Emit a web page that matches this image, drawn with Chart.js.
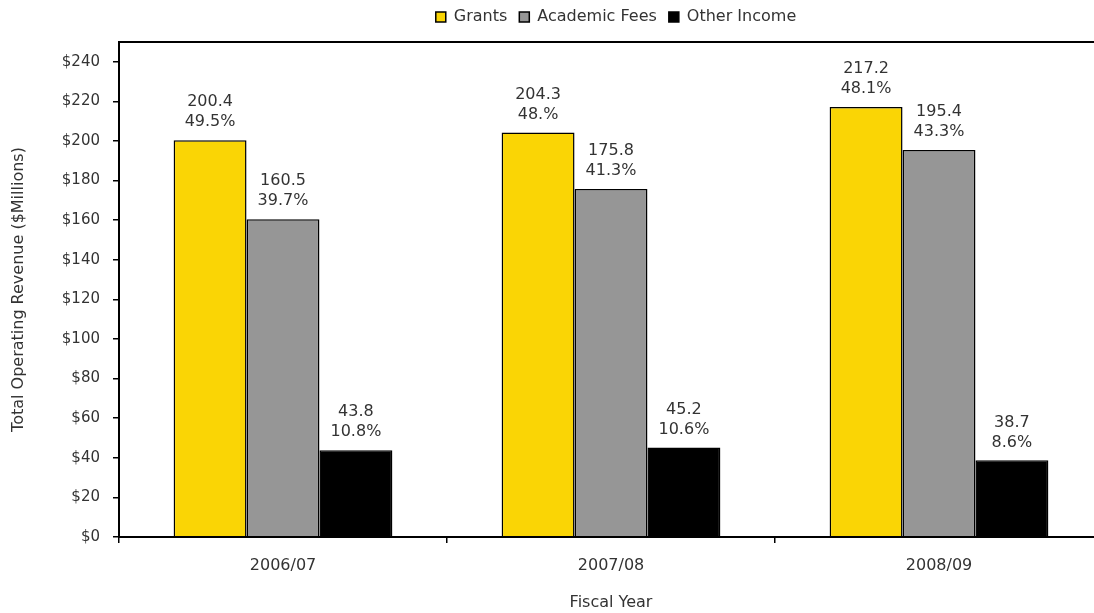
<!DOCTYPE html>
<html>
<head>
<meta charset="utf-8">
<script src="https://cdn.jsdelivr.net/npm/chart.js@4.4.1/dist/chart.umd.min.js"></script>
<style>
  html, body { margin: 0; padding: 0; background: #fff; overflow: hidden; }
  #wrap { width: 1106px; height: 613px; }
</style>
</head>
<body>
<div id="wrap"><canvas id="revChart"></canvas></div>
<script>
const years = ['2006/07', '2007/08', '2008/09'];
const grants = [200.4, 204.3, 217.2];
const academicFees = [160.5, 175.8, 195.4];
const otherIncome = [43.8, 45.2, 38.7];
const grantsPct = ['49.5%', '48.%', '48.1%'];
const feesPct = ['39.7%', '41.3%', '43.3%'];
const otherPct = ['10.8%', '10.6%', '8.6%'];

const textColor = '#333333';
const fontFamily = '"DejaVu Sans", Verdana, sans-serif';

// two-line labels above each bar: value, then share
const barLabels = {
  id: 'barLabels',
  afterDatasetsDraw(chart) {
    const ctx = chart.ctx;
    ctx.save();
    ctx.font = '16px ' + fontFamily;
    ctx.fillStyle = textColor;
    ctx.textAlign = 'center';
    ctx.textBaseline = 'middle';
    chart.data.datasets.forEach((ds, i) => {
      chart.getDatasetMeta(i).data.forEach((bar, j) => {
        ctx.fillText(String(ds.data[j]), bar.x, bar.y - 38);
        ctx.fillText(ds.pct[j], bar.x, bar.y - 18);
      });
    });
    ctx.restore();
  }
};

// frame round the plot area; legend fixed height and centred over the plot
const frame = {
  id: 'frame',
  beforeLayout(chart) {
    const lg = chart.legend;
    if (lg && !lg._fixed) {
      const fit = lg.fit;
      lg.fit = function () { fit.call(this); this.height = 42; };
      lg._fixed = true;
    }
  },
  afterLayout(chart) {
    const lg = chart.legend;
    if (lg) {
      lg.left = chart.chartArea.left + 5;
      lg.right = chart.chartArea.right + 5;
      lg.top = -3;
    }
  },
  afterDraw(chart) {
    const a = chart.chartArea;
    const ctx = chart.ctx;
    ctx.save();
    ctx.strokeStyle = '#000';
    ctx.lineWidth = 2;
    ctx.strokeRect(a.left, a.top, a.right - a.left, a.bottom - a.top);
    ctx.restore();
  }
};

Chart.defaults.font.family = fontFamily;
Chart.defaults.color = textColor;

new Chart(document.getElementById('revChart'), {
  type: 'bar',
  data: {
    labels: years,
    datasets: [
      { label: 'Grants', data: grants, pct: grantsPct, backgroundColor: '#FAD505', borderColor: '#000', borderWidth: 1.5 },
      { label: 'Academic Fees', data: academicFees, pct: feesPct, backgroundColor: '#969696', borderColor: '#000', borderWidth: 1.5 },
      { label: 'Other Income', data: otherIncome, pct: otherPct, backgroundColor: '#000000', borderColor: '#000', borderWidth: 1.5 }
    ]
  },
  options: {
    responsive: true,
    maintainAspectRatio: false,
    animation: false,
    layout: { padding: { top: 0, right: 3, bottom: 0, left: 0 } },
    datasets: { bar: { categoryPercentage: 0.667, barPercentage: 1 } },
    plugins: {
      legend: {
        position: 'top',
        labels: { boxWidth: 10, boxHeight: 10, padding: 12, color: textColor, font: { size: 16 } }
      },
      tooltip: { enabled: false }
    },
    scales: {
      x: {
        grid: { drawOnChartArea: false, offset: true, tickLength: 6, color: '#000', lineWidth: 1.5 },
        border: { color: '#000', width: 2 },
        ticks: { padding: 13, font: { size: 16 }, color: textColor },
        title: { display: true, text: 'Fiscal Year', font: { size: 16 }, color: textColor, padding: { top: 2, bottom: 1 } },
        afterFit(scale) { scale.height = 76; }
      },
      y: {
        min: 0,
        max: 250,
        grid: { drawOnChartArea: false, tickLength: 6, color: '#000', lineWidth: 1.5 },
        border: { color: '#000', width: 2 },
        ticks: { stepSize: 20, padding: 13, font: { size: 15 }, color: textColor, callback: v => '$' + v },
        afterBuildTicks(scale) { scale.ticks = scale.ticks.filter(t => t.value <= 240); },
        title: { display: true, text: 'Total Operating Revenue ($Millions)', font: { size: 16 }, color: textColor, padding: { top: 9, bottom: 0 } },
        afterFit(scale) { scale.width = 119; }
      }
    }
  },
  plugins: [barLabels, frame]
});
</script>
</body>
</html>
